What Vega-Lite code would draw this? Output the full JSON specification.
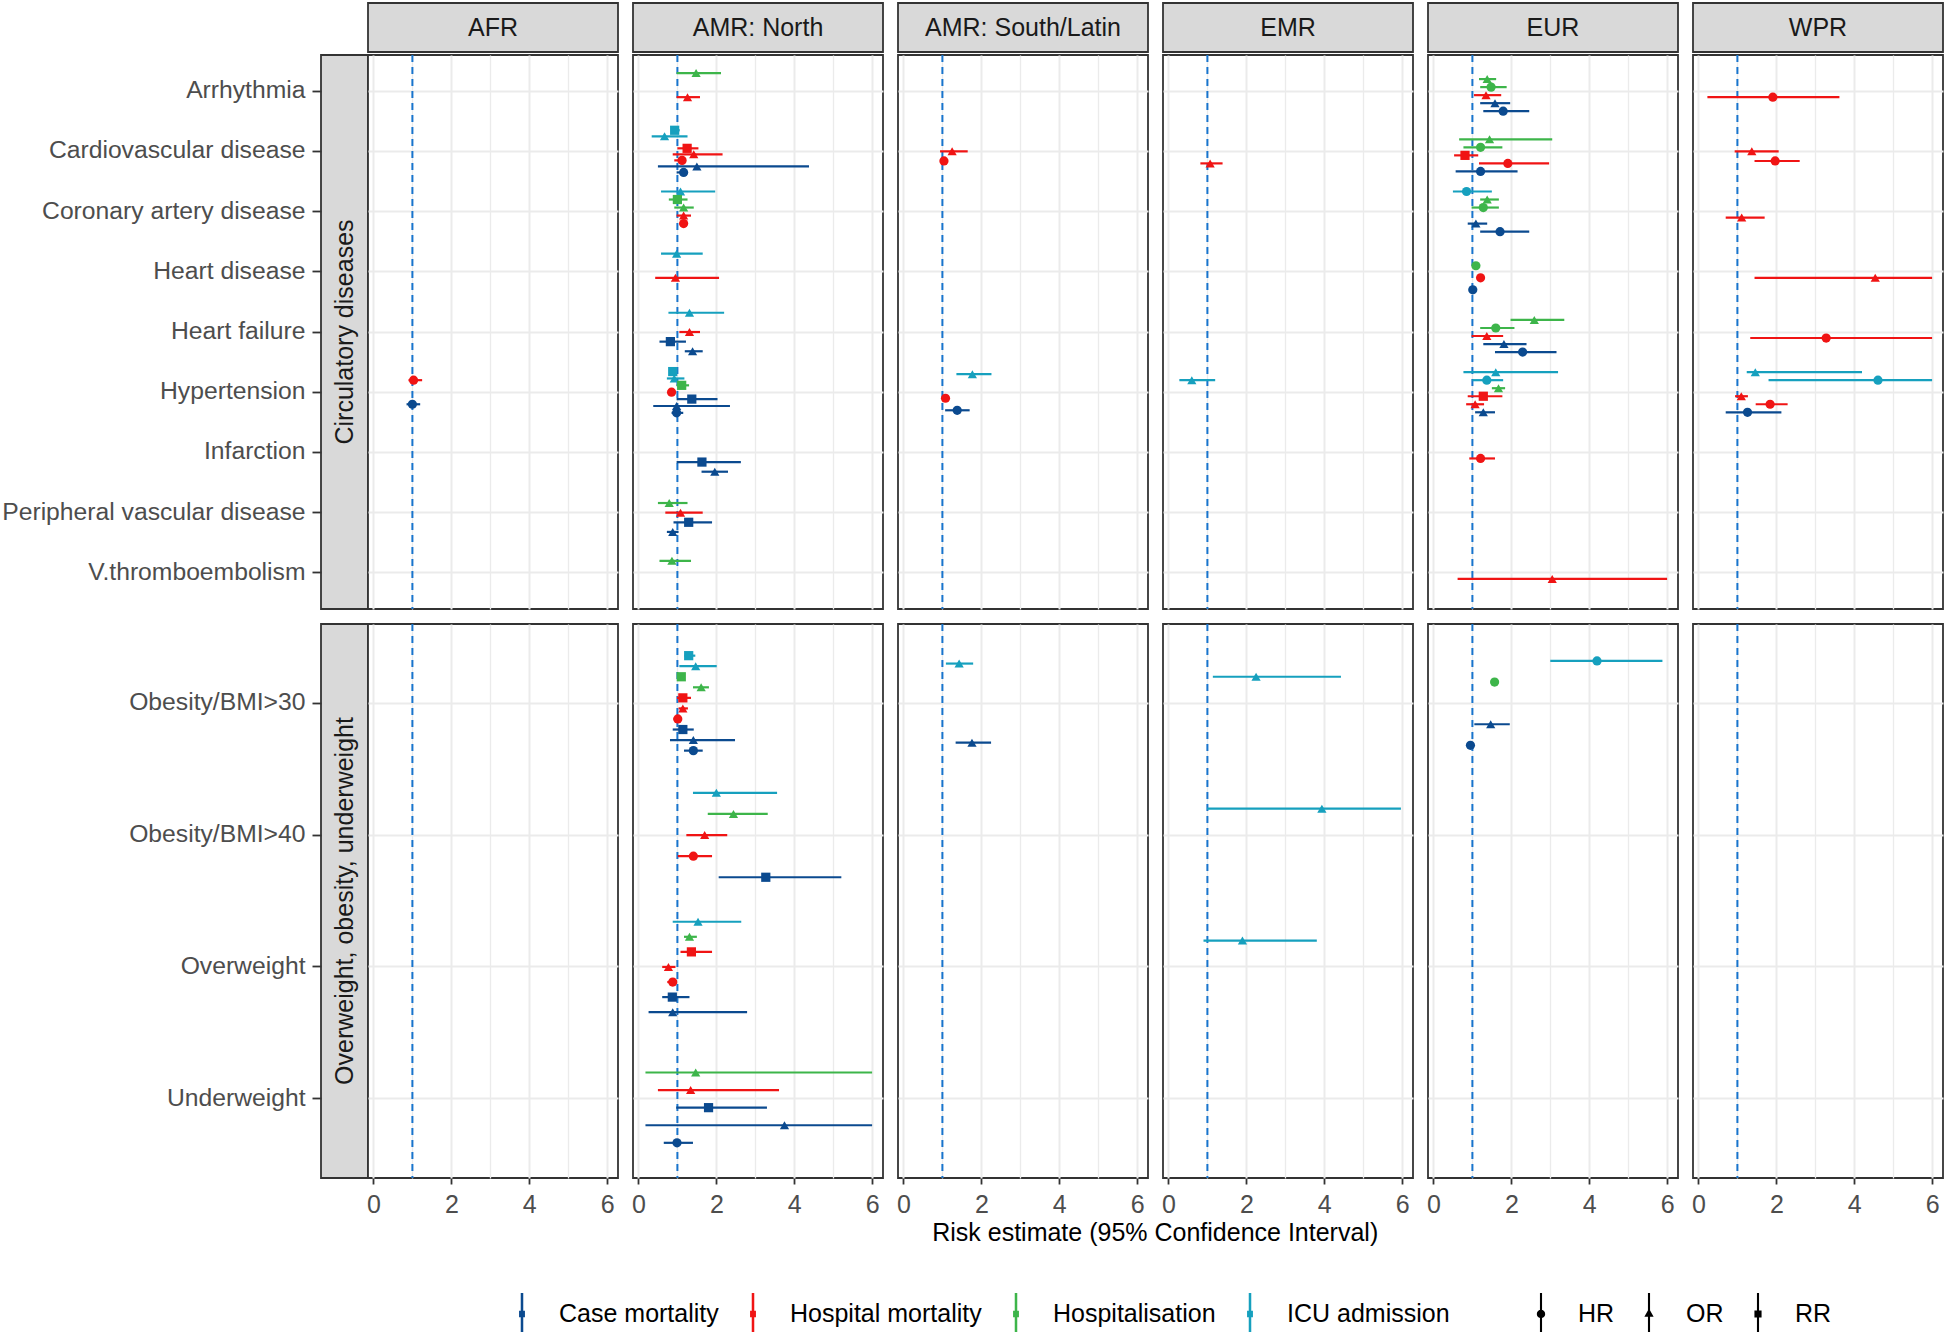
{
  "$schema": "https://vega.github.io/schema/vega-lite/v6.json",
  "padding": {"left": 0, "top": 2, "right": 0, "bottom": 0},
  "background": "white",
  "config": {
    "font": "Liberation Sans",
    "view": {"stroke": null},
    "axis": {"labelFont": "Liberation Sans", "titleFont": "Liberation Sans"},
    "legend": {"labelFont": "Liberation Sans"},
    "title": {"font": "Liberation Sans"}
  },
  "datasets": {
    "reg": [{"r": "AFR"}, {"r": "AMR: North"}, {"r": "AMR: South/Latin"}, {"r": "EMR"}, {"r": "EUR"}, {"r": "WPR"}],
    "d": [
      {"r": "AFR", "g": "C", "c": "Hypertension", "o": "Hospital mortality", "m": "HR", "e": 1.03, "l": 0.9, "h": 1.25},
      {"r": "AFR", "g": "C", "c": "Hypertension", "o": "Case mortality", "m": "HR", "e": 1.0, "l": 0.85, "h": 1.2},
      {"r": "AFR", "g": "O", "c": "Obesity/BMI>30", "o": "Case mortality", "m": "HR", "e": null, "l": null, "h": null},

      {"r": "AMR: North", "g": "C", "c": "Arrhythmia", "o": "Hospitalisation", "m": "OR", "e": 1.48, "l": 0.98, "h": 2.12},
      {"r": "AMR: North", "g": "C", "c": "Arrhythmia", "o": "Hospitalisation", "m": "HR", "e": null, "l": null, "h": null},
      {"r": "AMR: North", "g": "C", "c": "Arrhythmia", "o": "Hospital mortality", "m": "OR", "e": 1.26, "l": 0.98, "h": 1.58},
      {"r": "AMR: North", "g": "C", "c": "Arrhythmia", "o": "Case mortality", "m": "HR", "e": null, "l": null, "h": null},
      {"r": "AMR: North", "g": "C", "c": "Cardiovascular disease", "o": "ICU admission", "m": "RR", "e": 0.93, "l": 0.86, "h": 1.06},
      {"r": "AMR: North", "g": "C", "c": "Cardiovascular disease", "o": "ICU admission", "m": "OR", "e": 0.67, "l": 0.34, "h": 1.26},
      {"r": "AMR: North", "g": "C", "c": "Cardiovascular disease", "o": "Hospitalisation", "m": "OR", "e": null, "l": null, "h": null},
      {"r": "AMR: North", "g": "C", "c": "Cardiovascular disease", "o": "Hospital mortality", "m": "RR", "e": 1.25, "l": 1.0, "h": 1.54},
      {"r": "AMR: North", "g": "C", "c": "Cardiovascular disease", "o": "Hospital mortality", "m": "OR", "e": 1.42, "l": 0.88, "h": 2.16},
      {"r": "AMR: North", "g": "C", "c": "Cardiovascular disease", "o": "Hospital mortality", "m": "HR", "e": 1.12, "l": 0.92, "h": 1.22},
      {"r": "AMR: North", "g": "C", "c": "Cardiovascular disease", "o": "Case mortality", "m": "OR", "e": 1.5, "l": 0.5, "h": 4.38},
      {"r": "AMR: North", "g": "C", "c": "Cardiovascular disease", "o": "Case mortality", "m": "HR", "e": 1.16, "l": 0.98, "h": 1.25},
      {"r": "AMR: North", "g": "C", "c": "Coronary artery disease", "o": "ICU admission", "m": "OR", "e": 1.08, "l": 0.58, "h": 1.97},
      {"r": "AMR: North", "g": "C", "c": "Coronary artery disease", "o": "Hospitalisation", "m": "RR", "e": 1.0, "l": 0.78, "h": 1.26},
      {"r": "AMR: North", "g": "C", "c": "Coronary artery disease", "o": "Hospitalisation", "m": "OR", "e": 1.16, "l": 0.92, "h": 1.42},
      {"r": "AMR: North", "g": "C", "c": "Coronary artery disease", "o": "Hospital mortality", "m": "OR", "e": 1.16, "l": 0.98, "h": 1.35},
      {"r": "AMR: North", "g": "C", "c": "Coronary artery disease", "o": "Hospital mortality", "m": "HR", "e": 1.16, "l": 1.05, "h": 1.25},
      {"r": "AMR: North", "g": "C", "c": "Coronary artery disease", "o": "Case mortality", "m": "HR", "e": null, "l": null, "h": null},
      {"r": "AMR: North", "g": "C", "c": "Heart disease", "o": "ICU admission", "m": "OR", "e": 0.98, "l": 0.58, "h": 1.65},
      {"r": "AMR: North", "g": "C", "c": "Heart disease", "o": "Hospitalisation", "m": "OR", "e": null, "l": null, "h": null},
      {"r": "AMR: North", "g": "C", "c": "Heart disease", "o": "Hospital mortality", "m": "OR", "e": 0.95, "l": 0.43, "h": 2.07},
      {"r": "AMR: North", "g": "C", "c": "Heart disease", "o": "Case mortality", "m": "OR", "e": null, "l": null, "h": null},
      {"r": "AMR: North", "g": "C", "c": "Heart failure", "o": "ICU admission", "m": "OR", "e": 1.31, "l": 0.77, "h": 2.2},
      {"r": "AMR: North", "g": "C", "c": "Heart failure", "o": "Hospitalisation", "m": "OR", "e": null, "l": null, "h": null},
      {"r": "AMR: North", "g": "C", "c": "Heart failure", "o": "Hospital mortality", "m": "OR", "e": 1.31, "l": 1.05, "h": 1.58},
      {"r": "AMR: North", "g": "C", "c": "Heart failure", "o": "Case mortality", "m": "RR", "e": 0.82, "l": 0.54, "h": 1.22},
      {"r": "AMR: North", "g": "C", "c": "Heart failure", "o": "Case mortality", "m": "OR", "e": 1.39, "l": 1.19, "h": 1.65},
      {"r": "AMR: North", "g": "C", "c": "Hypertension", "o": "ICU admission", "m": "RR", "e": 0.88, "l": 0.8, "h": 0.98},
      {"r": "AMR: North", "g": "C", "c": "Hypertension", "o": "ICU admission", "m": "OR", "e": 0.92, "l": 0.73, "h": 1.18},
      {"r": "AMR: North", "g": "C", "c": "Hypertension", "o": "Hospitalisation", "m": "RR", "e": 1.11, "l": 0.98, "h": 1.3},
      {"r": "AMR: North", "g": "C", "c": "Hypertension", "o": "Hospital mortality", "m": "HR", "e": 0.85, "l": 0.8, "h": 0.9},
      {"r": "AMR: North", "g": "C", "c": "Hypertension", "o": "Case mortality", "m": "RR", "e": 1.37, "l": 0.98, "h": 2.03},
      {"r": "AMR: North", "g": "C", "c": "Hypertension", "o": "Case mortality", "m": "OR", "e": 0.98, "l": 0.38, "h": 2.35},
      {"r": "AMR: North", "g": "C", "c": "Hypertension", "o": "Case mortality", "m": "HR", "e": 0.98, "l": 0.85, "h": 1.15},
      {"r": "AMR: North", "g": "C", "c": "Infarction", "o": "ICU admission", "m": "OR", "e": null, "l": null, "h": null},
      {"r": "AMR: North", "g": "C", "c": "Infarction", "o": "Hospitalisation", "m": "OR", "e": null, "l": null, "h": null},
      {"r": "AMR: North", "g": "C", "c": "Infarction", "o": "Hospital mortality", "m": "OR", "e": null, "l": null, "h": null},
      {"r": "AMR: North", "g": "C", "c": "Infarction", "o": "Case mortality", "m": "RR", "e": 1.63, "l": 0.98, "h": 2.63},
      {"r": "AMR: North", "g": "C", "c": "Infarction", "o": "Case mortality", "m": "OR", "e": 1.96, "l": 1.62, "h": 2.3},
      {"r": "AMR: North", "g": "C", "c": "Peripheral vascular disease", "o": "ICU admission", "m": "OR", "e": null, "l": null, "h": null},
      {"r": "AMR: North", "g": "C", "c": "Peripheral vascular disease", "o": "Hospitalisation", "m": "OR", "e": 0.79, "l": 0.5, "h": 1.26},
      {"r": "AMR: North", "g": "C", "c": "Peripheral vascular disease", "o": "Hospital mortality", "m": "OR", "e": 1.08, "l": 0.69, "h": 1.65},
      {"r": "AMR: North", "g": "C", "c": "Peripheral vascular disease", "o": "Case mortality", "m": "RR", "e": 1.29, "l": 0.9, "h": 1.89},
      {"r": "AMR: North", "g": "C", "c": "Peripheral vascular disease", "o": "Case mortality", "m": "OR", "e": 0.88, "l": 0.73, "h": 1.03},
      {"r": "AMR: North", "g": "C", "c": "V.thromboembolism", "o": "Hospitalisation", "m": "OR", "e": 0.86, "l": 0.54, "h": 1.35},
      {"r": "AMR: North", "g": "C", "c": "V.thromboembolism", "o": "Hospital mortality", "m": "OR", "e": null, "l": null, "h": null},

      {"r": "AMR: South/Latin", "g": "C", "c": "Cardiovascular disease", "o": "ICU admission", "m": "OR", "e": null, "l": null, "h": null},
      {"r": "AMR: South/Latin", "g": "C", "c": "Cardiovascular disease", "o": "Hospitalisation", "m": "OR", "e": null, "l": null, "h": null},
      {"r": "AMR: South/Latin", "g": "C", "c": "Cardiovascular disease", "o": "Hospital mortality", "m": "OR", "e": 1.25, "l": 0.94, "h": 1.65},
      {"r": "AMR: South/Latin", "g": "C", "c": "Cardiovascular disease", "o": "Hospital mortality", "m": "HR", "e": 1.04, "l": 1.0, "h": 1.08},
      {"r": "AMR: South/Latin", "g": "C", "c": "Cardiovascular disease", "o": "Case mortality", "m": "OR", "e": null, "l": null, "h": null},
      {"r": "AMR: South/Latin", "g": "C", "c": "Hypertension", "o": "ICU admission", "m": "OR", "e": 1.77, "l": 1.36, "h": 2.26},
      {"r": "AMR: South/Latin", "g": "C", "c": "Hypertension", "o": "Hospitalisation", "m": "OR", "e": null, "l": null, "h": null},
      {"r": "AMR: South/Latin", "g": "C", "c": "Hypertension", "o": "Hospital mortality", "m": "HR", "e": 1.08, "l": 1.03, "h": 1.13},
      {"r": "AMR: South/Latin", "g": "C", "c": "Hypertension", "o": "Case mortality", "m": "HR", "e": 1.38, "l": 1.07, "h": 1.7},

      {"r": "EMR", "g": "C", "c": "Cardiovascular disease", "o": "ICU admission", "m": "OR", "e": null, "l": null, "h": null},
      {"r": "EMR", "g": "C", "c": "Cardiovascular disease", "o": "Hospital mortality", "m": "OR", "e": 1.07, "l": 0.82, "h": 1.39},
      {"r": "EMR", "g": "C", "c": "Hypertension", "o": "ICU admission", "m": "OR", "e": 0.6, "l": 0.28, "h": 1.2},
      {"r": "EMR", "g": "C", "c": "Hypertension", "o": "Hospital mortality", "m": "OR", "e": null, "l": null, "h": null},

      {"r": "EUR", "g": "C", "c": "Arrhythmia", "o": "ICU admission", "m": "OR", "e": null, "l": null, "h": null},
      {"r": "EUR", "g": "C", "c": "Arrhythmia", "o": "Hospitalisation", "m": "OR", "e": 1.38, "l": 1.17, "h": 1.61},
      {"r": "EUR", "g": "C", "c": "Arrhythmia", "o": "Hospitalisation", "m": "HR", "e": 1.48, "l": 1.2, "h": 1.88},
      {"r": "EUR", "g": "C", "c": "Arrhythmia", "o": "Hospital mortality", "m": "OR", "e": 1.35, "l": 1.04, "h": 1.74},
      {"r": "EUR", "g": "C", "c": "Arrhythmia", "o": "Case mortality", "m": "OR", "e": 1.58, "l": 1.2, "h": 1.97},
      {"r": "EUR", "g": "C", "c": "Arrhythmia", "o": "Case mortality", "m": "HR", "e": 1.79, "l": 1.28, "h": 2.46},
      {"r": "EUR", "g": "C", "c": "Cardiovascular disease", "o": "ICU admission", "m": "OR", "e": null, "l": null, "h": null},
      {"r": "EUR", "g": "C", "c": "Cardiovascular disease", "o": "Hospitalisation", "m": "OR", "e": 1.44, "l": 0.66, "h": 3.05},
      {"r": "EUR", "g": "C", "c": "Cardiovascular disease", "o": "Hospitalisation", "m": "HR", "e": 1.21, "l": 0.77, "h": 1.77},
      {"r": "EUR", "g": "C", "c": "Cardiovascular disease", "o": "Hospital mortality", "m": "RR", "e": 0.81, "l": 0.53, "h": 1.15},
      {"r": "EUR", "g": "C", "c": "Cardiovascular disease", "o": "Hospital mortality", "m": "HR", "e": 1.91, "l": 1.17, "h": 2.97},
      {"r": "EUR", "g": "C", "c": "Cardiovascular disease", "o": "Case mortality", "m": "HR", "e": 1.21, "l": 0.57, "h": 2.16},
      {"r": "EUR", "g": "C", "c": "Coronary artery disease", "o": "ICU admission", "m": "HR", "e": 0.85, "l": 0.5, "h": 1.5},
      {"r": "EUR", "g": "C", "c": "Coronary artery disease", "o": "Hospitalisation", "m": "OR", "e": 1.38, "l": 1.2, "h": 1.68},
      {"r": "EUR", "g": "C", "c": "Coronary artery disease", "o": "Hospitalisation", "m": "HR", "e": 1.28, "l": 0.98, "h": 1.68},
      {"r": "EUR", "g": "C", "c": "Coronary artery disease", "o": "Hospital mortality", "m": "OR", "e": null, "l": null, "h": null},
      {"r": "EUR", "g": "C", "c": "Coronary artery disease", "o": "Case mortality", "m": "OR", "e": 1.09, "l": 0.88, "h": 1.38},
      {"r": "EUR", "g": "C", "c": "Coronary artery disease", "o": "Case mortality", "m": "HR", "e": 1.71, "l": 1.2, "h": 2.46},
      {"r": "EUR", "g": "C", "c": "Heart disease", "o": "ICU admission", "m": "OR", "e": null, "l": null, "h": null},
      {"r": "EUR", "g": "C", "c": "Heart disease", "o": "Hospitalisation", "m": "HR", "e": 1.09, "l": 1.05, "h": 1.13},
      {"r": "EUR", "g": "C", "c": "Heart disease", "o": "Hospital mortality", "m": "HR", "e": 1.21, "l": 1.17, "h": 1.25},
      {"r": "EUR", "g": "C", "c": "Heart disease", "o": "Case mortality", "m": "HR", "e": 1.01, "l": 0.97, "h": 1.05},
      {"r": "EUR", "g": "C", "c": "Heart failure", "o": "ICU admission", "m": "OR", "e": null, "l": null, "h": null},
      {"r": "EUR", "g": "C", "c": "Heart failure", "o": "Hospitalisation", "m": "OR", "e": 2.59, "l": 1.98, "h": 3.36},
      {"r": "EUR", "g": "C", "c": "Heart failure", "o": "Hospitalisation", "m": "HR", "e": 1.6, "l": 1.2, "h": 2.08},
      {"r": "EUR", "g": "C", "c": "Heart failure", "o": "Hospital mortality", "m": "OR", "e": 1.37, "l": 0.98, "h": 1.79},
      {"r": "EUR", "g": "C", "c": "Heart failure", "o": "Case mortality", "m": "OR", "e": 1.81, "l": 1.28, "h": 2.39},
      {"r": "EUR", "g": "C", "c": "Heart failure", "o": "Case mortality", "m": "HR", "e": 2.29, "l": 1.58, "h": 3.16},
      {"r": "EUR", "g": "C", "c": "Hypertension", "o": "ICU admission", "m": "OR", "e": 1.6, "l": 0.77, "h": 3.2},
      {"r": "EUR", "g": "C", "c": "Hypertension", "o": "ICU admission", "m": "HR", "e": 1.37, "l": 1.0, "h": 1.79},
      {"r": "EUR", "g": "C", "c": "Hypertension", "o": "Hospitalisation", "m": "OR", "e": 1.67, "l": 1.5, "h": 1.84},
      {"r": "EUR", "g": "C", "c": "Hypertension", "o": "Hospital mortality", "m": "RR", "e": 1.28, "l": 0.88, "h": 1.77},
      {"r": "EUR", "g": "C", "c": "Hypertension", "o": "Hospital mortality", "m": "OR", "e": 1.07, "l": 0.84, "h": 1.3},
      {"r": "EUR", "g": "C", "c": "Hypertension", "o": "Case mortality", "m": "OR", "e": 1.28, "l": 1.07, "h": 1.58},
      {"r": "EUR", "g": "C", "c": "Infarction", "o": "ICU admission", "m": "OR", "e": null, "l": null, "h": null},
      {"r": "EUR", "g": "C", "c": "Infarction", "o": "Hospitalisation", "m": "OR", "e": null, "l": null, "h": null},
      {"r": "EUR", "g": "C", "c": "Infarction", "o": "Hospital mortality", "m": "HR", "e": 1.21, "l": 0.92, "h": 1.58},
      {"r": "EUR", "g": "C", "c": "Infarction", "o": "Case mortality", "m": "OR", "e": null, "l": null, "h": null},
      {"r": "EUR", "g": "C", "c": "V.thromboembolism", "o": "ICU admission", "m": "OR", "e": null, "l": null, "h": null},
      {"r": "EUR", "g": "C", "c": "V.thromboembolism", "o": "Hospitalisation", "m": "OR", "e": null, "l": null, "h": null},
      {"r": "EUR", "g": "C", "c": "V.thromboembolism", "o": "Hospital mortality", "m": "OR", "e": 3.05, "l": 0.62, "h": 6.0},
      {"r": "EUR", "g": "C", "c": "V.thromboembolism", "o": "Case mortality", "m": "OR", "e": null, "l": null, "h": null},

      {"r": "WPR", "g": "C", "c": "Arrhythmia", "o": "ICU admission", "m": "OR", "e": null, "l": null, "h": null},
      {"r": "WPR", "g": "C", "c": "Arrhythmia", "o": "Hospitalisation", "m": "OR", "e": null, "l": null, "h": null},
      {"r": "WPR", "g": "C", "c": "Arrhythmia", "o": "Hospital mortality", "m": "HR", "e": 1.91, "l": 0.23, "h": 3.62},
      {"r": "WPR", "g": "C", "c": "Arrhythmia", "o": "Case mortality", "m": "OR", "e": null, "l": null, "h": null},
      {"r": "WPR", "g": "C", "c": "Cardiovascular disease", "o": "ICU admission", "m": "OR", "e": null, "l": null, "h": null},
      {"r": "WPR", "g": "C", "c": "Cardiovascular disease", "o": "Hospitalisation", "m": "OR", "e": null, "l": null, "h": null},
      {"r": "WPR", "g": "C", "c": "Cardiovascular disease", "o": "Hospital mortality", "m": "OR", "e": 1.37, "l": 0.93, "h": 2.06},
      {"r": "WPR", "g": "C", "c": "Cardiovascular disease", "o": "Hospital mortality", "m": "HR", "e": 1.97, "l": 1.44, "h": 2.6},
      {"r": "WPR", "g": "C", "c": "Cardiovascular disease", "o": "Case mortality", "m": "OR", "e": null, "l": null, "h": null},
      {"r": "WPR", "g": "C", "c": "Coronary artery disease", "o": "ICU admission", "m": "OR", "e": null, "l": null, "h": null},
      {"r": "WPR", "g": "C", "c": "Coronary artery disease", "o": "Hospitalisation", "m": "OR", "e": null, "l": null, "h": null},
      {"r": "WPR", "g": "C", "c": "Coronary artery disease", "o": "Hospital mortality", "m": "OR", "e": 1.11, "l": 0.7, "h": 1.7},
      {"r": "WPR", "g": "C", "c": "Coronary artery disease", "o": "Case mortality", "m": "OR", "e": null, "l": null, "h": null},
      {"r": "WPR", "g": "C", "c": "Heart disease", "o": "ICU admission", "m": "OR", "e": null, "l": null, "h": null},
      {"r": "WPR", "g": "C", "c": "Heart disease", "o": "Hospitalisation", "m": "OR", "e": null, "l": null, "h": null},
      {"r": "WPR", "g": "C", "c": "Heart disease", "o": "Hospital mortality", "m": "OR", "e": 4.54, "l": 1.44, "h": 6.0},
      {"r": "WPR", "g": "C", "c": "Heart disease", "o": "Case mortality", "m": "OR", "e": null, "l": null, "h": null},
      {"r": "WPR", "g": "C", "c": "Heart failure", "o": "ICU admission", "m": "OR", "e": null, "l": null, "h": null},
      {"r": "WPR", "g": "C", "c": "Heart failure", "o": "Hospitalisation", "m": "OR", "e": null, "l": null, "h": null},
      {"r": "WPR", "g": "C", "c": "Heart failure", "o": "Hospital mortality", "m": "HR", "e": 3.28, "l": 1.33, "h": 6.0},
      {"r": "WPR", "g": "C", "c": "Heart failure", "o": "Case mortality", "m": "OR", "e": null, "l": null, "h": null},
      {"r": "WPR", "g": "C", "c": "Hypertension", "o": "ICU admission", "m": "OR", "e": 1.46, "l": 1.24, "h": 4.2},
      {"r": "WPR", "g": "C", "c": "Hypertension", "o": "ICU admission", "m": "HR", "e": 4.61, "l": 1.8, "h": 6.0},
      {"r": "WPR", "g": "C", "c": "Hypertension", "o": "Hospitalisation", "m": "OR", "e": null, "l": null, "h": null},
      {"r": "WPR", "g": "C", "c": "Hypertension", "o": "Hospital mortality", "m": "OR", "e": 1.1, "l": 0.94, "h": 1.27},
      {"r": "WPR", "g": "C", "c": "Hypertension", "o": "Hospital mortality", "m": "HR", "e": 1.84, "l": 1.47, "h": 2.29},
      {"r": "WPR", "g": "C", "c": "Hypertension", "o": "Case mortality", "m": "HR", "e": 1.26, "l": 0.7, "h": 2.13},
      {"r": "WPR", "g": "O", "c": "Obesity/BMI>30", "o": "Case mortality", "m": "HR", "e": null, "l": null, "h": null},

      {"r": "AMR: North", "g": "O", "c": "Obesity/BMI>30", "o": "ICU admission", "m": "RR", "e": 1.29, "l": 1.18, "h": 1.46},
      {"r": "AMR: North", "g": "O", "c": "Obesity/BMI>30", "o": "ICU admission", "m": "OR", "e": 1.47, "l": 1.05, "h": 2.01},
      {"r": "AMR: North", "g": "O", "c": "Obesity/BMI>30", "o": "Hospitalisation", "m": "RR", "e": 1.1, "l": 1.05, "h": 1.15},
      {"r": "AMR: North", "g": "O", "c": "Obesity/BMI>30", "o": "Hospitalisation", "m": "OR", "e": 1.61, "l": 1.4, "h": 1.81},
      {"r": "AMR: North", "g": "O", "c": "Obesity/BMI>30", "o": "Hospital mortality", "m": "RR", "e": 1.14, "l": 0.99, "h": 1.35},
      {"r": "AMR: North", "g": "O", "c": "Obesity/BMI>30", "o": "Hospital mortality", "m": "OR", "e": 1.14, "l": 1.03, "h": 1.27},
      {"r": "AMR: North", "g": "O", "c": "Obesity/BMI>30", "o": "Hospital mortality", "m": "HR", "e": 1.01, "l": 0.9, "h": 1.1},
      {"r": "AMR: North", "g": "O", "c": "Obesity/BMI>30", "o": "Case mortality", "m": "RR", "e": 1.14, "l": 0.88, "h": 1.42},
      {"r": "AMR: North", "g": "O", "c": "Obesity/BMI>30", "o": "Case mortality", "m": "OR", "e": 1.41, "l": 0.81, "h": 2.48},
      {"r": "AMR: North", "g": "O", "c": "Obesity/BMI>30", "o": "Case mortality", "m": "HR", "e": 1.41, "l": 1.17, "h": 1.65},
      {"r": "AMR: North", "g": "O", "c": "Obesity/BMI>40", "o": "ICU admission", "m": "OR", "e": 2.0, "l": 1.4, "h": 3.56},
      {"r": "AMR: North", "g": "O", "c": "Obesity/BMI>40", "o": "Hospitalisation", "m": "OR", "e": 2.44, "l": 1.78, "h": 3.32},
      {"r": "AMR: North", "g": "O", "c": "Obesity/BMI>40", "o": "Hospital mortality", "m": "OR", "e": 1.7, "l": 1.23, "h": 2.28},
      {"r": "AMR: North", "g": "O", "c": "Obesity/BMI>40", "o": "Hospital mortality", "m": "HR", "e": 1.41, "l": 1.01, "h": 1.89},
      {"r": "AMR: North", "g": "O", "c": "Obesity/BMI>40", "o": "Case mortality", "m": "RR", "e": 3.27, "l": 2.06, "h": 5.21},
      {"r": "AMR: North", "g": "O", "c": "Overweight", "o": "ICU admission", "m": "OR", "e": 1.53, "l": 0.88, "h": 2.64},
      {"r": "AMR: North", "g": "O", "c": "Overweight", "o": "Hospitalisation", "m": "OR", "e": 1.31, "l": 1.17, "h": 1.5},
      {"r": "AMR: North", "g": "O", "c": "Overweight", "o": "Hospital mortality", "m": "RR", "e": 1.36, "l": 1.08, "h": 1.89},
      {"r": "AMR: North", "g": "O", "c": "Overweight", "o": "Hospital mortality", "m": "OR", "e": 0.77, "l": 0.61, "h": 0.95},
      {"r": "AMR: North", "g": "O", "c": "Overweight", "o": "Hospital mortality", "m": "HR", "e": 0.88, "l": 0.74, "h": 0.97},
      {"r": "AMR: North", "g": "O", "c": "Overweight", "o": "Case mortality", "m": "RR", "e": 0.87, "l": 0.61, "h": 1.31},
      {"r": "AMR: North", "g": "O", "c": "Overweight", "o": "Case mortality", "m": "OR", "e": 0.88, "l": 0.26, "h": 2.79},
      {"r": "AMR: North", "g": "O", "c": "Underweight", "o": "ICU admission", "m": "OR", "e": null, "l": null, "h": null},
      {"r": "AMR: North", "g": "O", "c": "Underweight", "o": "Hospitalisation", "m": "OR", "e": 1.47, "l": 0.18, "h": 6.0},
      {"r": "AMR: North", "g": "O", "c": "Underweight", "o": "Hospital mortality", "m": "OR", "e": 1.34, "l": 0.5, "h": 3.61},
      {"r": "AMR: North", "g": "O", "c": "Underweight", "o": "Case mortality", "m": "RR", "e": 1.8, "l": 0.97, "h": 3.3},
      {"r": "AMR: North", "g": "O", "c": "Underweight", "o": "Case mortality", "m": "OR", "e": 3.75, "l": 0.18, "h": 6.0},
      {"r": "AMR: North", "g": "O", "c": "Underweight", "o": "Case mortality", "m": "HR", "e": 0.99, "l": 0.65, "h": 1.4},

      {"r": "AMR: South/Latin", "g": "O", "c": "Obesity/BMI>30", "o": "ICU admission", "m": "OR", "e": 1.43, "l": 1.09, "h": 1.79},
      {"r": "AMR: South/Latin", "g": "O", "c": "Obesity/BMI>30", "o": "Hospitalisation", "m": "OR", "e": null, "l": null, "h": null},
      {"r": "AMR: South/Latin", "g": "O", "c": "Obesity/BMI>30", "o": "Hospital mortality", "m": "OR", "e": null, "l": null, "h": null},
      {"r": "AMR: South/Latin", "g": "O", "c": "Obesity/BMI>30", "o": "Case mortality", "m": "OR", "e": 1.76, "l": 1.34, "h": 2.25},

      {"r": "EMR", "g": "O", "c": "Obesity/BMI>30", "o": "ICU admission", "m": "OR", "e": 2.25, "l": 1.14, "h": 4.43},
      {"r": "EMR", "g": "O", "c": "Obesity/BMI>30", "o": "Hospital mortality", "m": "OR", "e": null, "l": null, "h": null},
      {"r": "EMR", "g": "O", "c": "Obesity/BMI>40", "o": "ICU admission", "m": "OR", "e": 3.94, "l": 0.99, "h": 5.97},
      {"r": "EMR", "g": "O", "c": "Obesity/BMI>40", "o": "Hospital mortality", "m": "OR", "e": null, "l": null, "h": null},
      {"r": "EMR", "g": "O", "c": "Overweight", "o": "ICU admission", "m": "OR", "e": 1.9, "l": 0.9, "h": 3.81},
      {"r": "EMR", "g": "O", "c": "Overweight", "o": "Hospital mortality", "m": "OR", "e": null, "l": null, "h": null},

      {"r": "EUR", "g": "O", "c": "Obesity/BMI>30", "o": "ICU admission", "m": "HR", "e": 4.2, "l": 3.0, "h": 5.88},
      {"r": "EUR", "g": "O", "c": "Obesity/BMI>30", "o": "Hospitalisation", "m": "HR", "e": 1.57, "l": 1.53, "h": 1.61},
      {"r": "EUR", "g": "O", "c": "Obesity/BMI>30", "o": "Hospital mortality", "m": "OR", "e": null, "l": null, "h": null},
      {"r": "EUR", "g": "O", "c": "Obesity/BMI>30", "o": "Case mortality", "m": "OR", "e": 1.47, "l": 1.05, "h": 1.96},
      {"r": "EUR", "g": "O", "c": "Obesity/BMI>30", "o": "Case mortality", "m": "HR", "e": 0.95, "l": 0.92, "h": 0.99}
    ]
  },
  "spacing": 11,
  "resolve": {"scale": {"yOffset": "independent"}},
  "vconcat": [
    {
      "spacing": 0,
      "resolve": {"scale": {"yOffset": "independent"}},
      "vconcat": [
        {
          "spacing": 0,
          "bounds": "flush",
          "hconcat": [
            {
              "width": 47, "height": 49,
              "data": {"values": [{"a": 1}]},
              "mark": {"type": "text", "opacity": 0},
              "encoding": {"text": {"value": ""}}
            },
            {
              "data": {"name": "reg"},
              "facet": {"column": {"field": "r", "type": "nominal", "header": null}},
              "spacing": 15,
              "bounds": "flush",
              "spec": {
                "width": 250, "height": 49,
                "view": {"fill": "#D9D9D9", "stroke": "#333333", "strokeWidth": 1.8},
                "mark": {"type": "text", "fontSize": 25, "color": "#1A1A1A", "font": "Liberation Sans"},
                "encoding": {"text": {"field": "r", "type": "nominal"}}
              }
            }
          ]
        },
        {
          "spacing": 0,
          "bounds": "flush",
          "hconcat": [
            {
              "width": 47, "height": 554,
              "view": {"fill": "#D9D9D9", "stroke": "#333333", "strokeWidth": 1.8},
              "layer": [
                {
                  "data": {"name": "d"},
                  "transform": [{"filter": "datum.g === 'C'"}],
                  "mark": {"type": "point", "opacity": 0},
                  "encoding": {
                    "y": {"field": "c", "type": "nominal", "scale": {"type": "band", "paddingInner": 0, "paddingOuter": 0.1},
                      "axis": {"title": null, "domain": false, "grid": false, "ticks": true, "tickSize": 9, "tickWidth": 1.8, "tickColor": "#333333", "labelFontSize": 24.7, "labelColor": "#4D4D4D", "labelPadding": 7, "labelLimit": 0, "minExtent": 320, "maxExtent": 320, "bandPosition": 0.5}}
                  }
                },
                {
                  "data": {"values": [{"t": "Circulatory diseases"}]},
                  "mark": {"type": "text", "angle": 270, "fontSize": 25, "color": "#1A1A1A", "font": "Liberation Sans"},
                  "encoding": {"text": {"field": "t", "type": "nominal"}}
                }
              ]
            },
            {
              "data": {"name": "d"},
              "transform": [
                {"filter": "datum.g === 'C'"},
                {"window": [{"op": "row_number", "as": "k"}], "groupby": ["r", "c"], "sort": [{"field": "o", "order": "descending"}, {"field": "m", "order": "descending"}]},
                {"joinaggregate": [{"op": "count", "as": "n"}], "groupby": ["r", "c"]},
                {"window": [{"op": "row_number", "as": "kr"}], "groupby": ["r"]},
                {"calculate": "0.8 * ((datum.k - 0.5) / datum.n - 0.5)", "as": "dy"}
              ],
              "facet": {"column": {"field": "r", "type": "nominal", "header": null}},
              "spacing": 15,
              "bounds": "flush",
              "spec": {
                "width": 250, "height": 554,
                "view": {"fill": "white", "stroke": "#333333", "strokeWidth": 1.8},
                "layer": [
                  {
                    "transform": [{"filter": "datum.kr === 1"}],
                    "mark": {"type": "rule", "color": "#1874CD", "strokeDash": [7, 5], "strokeWidth": 2},
                    "encoding": {
                      "x": {"datum": 1, "type": "quantitative", "scale": {"domain": [-0.14, 6.28], "nice": false, "zero": false},
                        "axis": {"values": [0, 1, 2, 3, 4, 5, 6], "labels": false, "ticks": false, "domain": false, "grid": true, "gridColor": "#EBEBEB", "gridWidth": {"condition": {"test": "datum.value % 2 === 1", "value": 1.3}, "value": 2}, "title": null, "minExtent": 0, "maxExtent": 0}}
                    }
                  },
                  {
                    "mark": {"type": "rule", "strokeWidth": 2.2},
                    "encoding": {
                      "x": {"field": "l", "type": "quantitative", "scale": {"domain": [-0.14, 6.28], "nice": false, "zero": false},
                        "axis": {"values": [0, 1, 2, 3, 4, 5, 6], "labels": false, "ticks": false, "domain": false, "grid": true, "gridColor": "#EBEBEB", "gridWidth": {"condition": {"test": "datum.value % 2 === 1", "value": 1.3}, "value": 2}, "title": null, "minExtent": 0, "maxExtent": 0}},
                      "x2": {"field": "h"},
                      "y": {"field": "c", "type": "nominal", "scale": {"type": "band", "paddingInner": 0, "paddingOuter": 0.1},
                        "axis": {"labels": false, "ticks": false, "domain": false, "grid": true, "gridColor": "#EBEBEB", "gridWidth": 2, "bandPosition": 0.5, "title": null, "minExtent": 0, "maxExtent": 0}},
                      "yOffset": {"field": "dy", "type": "quantitative", "scale": {"domain": [-0.5, 0.5], "nice": false, "zero": false}},
                      "color": {"field": "o", "type": "nominal", "scale": {"domain": ["Case mortality", "Hospital mortality", "Hospitalisation", "ICU admission"], "range": ["#0B4A8F", "#F01414", "#3DB54A", "#16A0BE"]},
                        "legend": {"orient": "none", "legendX": 180, "legendY": 1290, "direction": "horizontal", "title": null, "symbolType": "M-0.06,-1H0.06V1H-0.06Z M-0.14,-0.16H0.14V0.16H-0.14Z", "symbolSize": 1764, "symbolStrokeWidth": 0, "symbolOpacity": 1, "labelFontSize": 25, "labelColor": "#000000", "labelOffset": 16, "columnPadding": 13, "labelLimit": 0}}
                    }
                  },
                  {
                    "mark": {"type": "point", "filled": true, "size": 85},
                    "encoding": {
                      "x": {"field": "e", "type": "quantitative", "scale": {"domain": [-0.14, 6.28], "nice": false, "zero": false},
                        "axis": {"values": [0, 1, 2, 3, 4, 5, 6], "labels": false, "ticks": false, "domain": false, "grid": true, "gridColor": "#EBEBEB", "gridWidth": {"condition": {"test": "datum.value % 2 === 1", "value": 1.3}, "value": 2}, "title": null, "minExtent": 0, "maxExtent": 0}},
                      "y": {"field": "c", "type": "nominal", "scale": {"type": "band", "paddingInner": 0, "paddingOuter": 0.1},
                        "axis": {"labels": false, "ticks": false, "domain": false, "grid": true, "gridColor": "#EBEBEB", "gridWidth": 2, "bandPosition": 0.5, "title": null, "minExtent": 0, "maxExtent": 0}},
                      "yOffset": {"field": "dy", "type": "quantitative", "scale": {"domain": [-0.5, 0.5], "nice": false, "zero": false}},
                      "color": {"field": "o", "type": "nominal", "scale": {"domain": ["Case mortality", "Hospital mortality", "Hospitalisation", "ICU admission"], "range": ["#0B4A8F", "#F01414", "#3DB54A", "#16A0BE"]},
                        "legend": {"orient": "none", "legendX": 180, "legendY": 1290, "direction": "horizontal", "title": null, "symbolType": "M-0.06,-1H0.06V1H-0.06Z M-0.14,-0.16H0.14V0.16H-0.14Z", "symbolSize": 1764, "symbolStrokeWidth": 0, "symbolOpacity": 1, "labelFontSize": 25, "labelColor": "#000000", "labelOffset": 16, "columnPadding": 13, "labelLimit": 0}},
                      "shape": {"field": "m", "type": "nominal", "scale": {"range": ["circle", "triangle-up", "square"]}, "legend": null},
                      "opacity": {"field": "m", "type": "nominal", "scale": {"domain": ["HR", "OR", "RR"], "range": [1, 1]},
                        "legend": {"orient": "none", "legendX": 1199, "legendY": 1290, "direction": "horizontal", "title": null, "symbolType": {"expr": "datum.value === 'HR' ? 'M-0.05,-1H0.05V1H-0.05Z M-0.2,0A0.2,0.2 0 1,1 0.2,0A0.2,0.2 0 1,1 -0.2,0Z' : datum.value === 'OR' ? 'M-0.05,-1H0.05V1H-0.05Z M0,-0.26L0.22,0.13H-0.22Z' : 'M-0.05,-1H0.05V1H-0.05Z M-0.17,-0.17H0.17V0.17H-0.17Z'"}, "symbolSize": 1764, "symbolFillColor": "#000000", "symbolStrokeWidth": 0, "labelFontSize": 25, "labelColor": "#000000", "labelOffset": 16, "columnPadding": 13}}
                    }
                  }
                ]
              }
            }
          ]
        }
      ]
    },
    {
      "spacing": 0,
      "bounds": "flush",
      "hconcat": [
        {
          "width": 47, "height": 554,
          "view": {"fill": "#D9D9D9", "stroke": "#333333", "strokeWidth": 1.8},
          "layer": [
            {
              "data": {"name": "d"},
              "transform": [{"filter": "datum.g === 'O'"}],
              "mark": {"type": "point", "opacity": 0},
              "encoding": {
                "y": {"field": "c", "type": "nominal", "scale": {"type": "band", "paddingInner": 0, "paddingOuter": 0.1},
                  "axis": {"title": null, "domain": false, "grid": false, "ticks": true, "tickSize": 9, "tickWidth": 1.8, "tickColor": "#333333", "labelFontSize": 24.7, "labelColor": "#4D4D4D", "labelPadding": 7, "labelLimit": 0, "minExtent": 320, "maxExtent": 320, "bandPosition": 0.5}}
              }
            },
            {
              "data": {"values": [{"t": "Overweight, obesity, underweight"}]},
              "mark": {"type": "text", "angle": 270, "fontSize": 25, "color": "#1A1A1A", "font": "Liberation Sans"},
              "encoding": {"text": {"field": "t", "type": "nominal"}}
            }
          ]
        },
        {
          "data": {"name": "d"},
          "title": {"text": "Risk estimate (95% Confidence Interval)", "orient": "bottom", "anchor": "middle", "fontSize": 25, "fontWeight": "normal", "color": "#000000", "offset": 4},
          "transform": [
            {"filter": "datum.g === 'O'"},
            {"window": [{"op": "row_number", "as": "k"}], "groupby": ["r", "c"], "sort": [{"field": "o", "order": "descending"}, {"field": "m", "order": "descending"}]},
            {"joinaggregate": [{"op": "count", "as": "n"}], "groupby": ["r", "c"]},
            {"window": [{"op": "row_number", "as": "kr"}], "groupby": ["r"]},
            {"calculate": "0.8 * ((datum.k - 0.5) / datum.n - 0.5)", "as": "dy"}
          ],
          "facet": {"column": {"field": "r", "type": "nominal", "header": null}},
          "spacing": 15,
          "bounds": "flush",
          "spec": {
            "width": 250, "height": 554,
            "view": {"fill": "white", "stroke": "#333333", "strokeWidth": 1.8},
            "layer": [
              {
                "transform": [{"filter": "datum.kr === 1"}],
                "mark": {"type": "rule", "color": "#1874CD", "strokeDash": [7, 5], "strokeWidth": 2},
                "encoding": {
                  "x": {"datum": 1, "type": "quantitative", "scale": {"domain": [-0.14, 6.28], "nice": false, "zero": false},
                    "axis": {"values": [0, 1, 2, 3, 4, 5, 6], "labelExpr": "datum.value % 2 === 0 ? datum.label : ''", "labelOverlap": false, "labelFlush": false, "grid": true, "gridColor": "#EBEBEB", "gridWidth": {"condition": {"test": "datum.value % 2 === 1", "value": 1.3}, "value": 2}, "tickOpacity": {"condition": {"test": "datum.value % 2 === 1", "value": 0}, "value": 1}, "tickSize": 6, "tickWidth": 1.8, "tickColor": "#333333", "labelFontSize": 25, "labelColor": "#4D4D4D", "labelPadding": 8, "domain": false, "title": null}}
                }
              },
              {
                "mark": {"type": "rule", "strokeWidth": 2.2},
                "encoding": {
                  "x": {"field": "l", "type": "quantitative", "scale": {"domain": [-0.14, 6.28], "nice": false, "zero": false},
                    "axis": {"values": [0, 1, 2, 3, 4, 5, 6], "labelExpr": "datum.value % 2 === 0 ? datum.label : ''", "labelOverlap": false, "labelFlush": false, "grid": true, "gridColor": "#EBEBEB", "gridWidth": {"condition": {"test": "datum.value % 2 === 1", "value": 1.3}, "value": 2}, "tickOpacity": {"condition": {"test": "datum.value % 2 === 1", "value": 0}, "value": 1}, "tickSize": 6, "tickWidth": 1.8, "tickColor": "#333333", "labelFontSize": 25, "labelColor": "#4D4D4D", "labelPadding": 8, "domain": false, "title": null}},
                  "x2": {"field": "h"},
                  "y": {"field": "c", "type": "nominal", "scale": {"type": "band", "paddingInner": 0, "paddingOuter": 0.1},
                    "axis": {"labels": false, "ticks": false, "domain": false, "grid": true, "gridColor": "#EBEBEB", "gridWidth": 2, "bandPosition": 0.5, "title": null, "minExtent": 0, "maxExtent": 0}},
                  "yOffset": {"field": "dy", "type": "quantitative", "scale": {"domain": [-0.5, 0.5], "nice": false, "zero": false}},
                  "color": {"field": "o", "type": "nominal", "scale": {"domain": ["Case mortality", "Hospital mortality", "Hospitalisation", "ICU admission"], "range": ["#0B4A8F", "#F01414", "#3DB54A", "#16A0BE"]},
                    "legend": {"orient": "none", "legendX": 180, "legendY": 1290, "direction": "horizontal", "title": null, "symbolType": "M-0.06,-1H0.06V1H-0.06Z M-0.14,-0.16H0.14V0.16H-0.14Z", "symbolSize": 1764, "symbolStrokeWidth": 0, "symbolOpacity": 1, "labelFontSize": 25, "labelColor": "#000000", "labelOffset": 16, "columnPadding": 13, "labelLimit": 0}}
                }
              },
              {
                "mark": {"type": "point", "filled": true, "size": 85},
                "encoding": {
                  "x": {"field": "e", "type": "quantitative", "scale": {"domain": [-0.14, 6.28], "nice": false, "zero": false},
                    "axis": {"values": [0, 1, 2, 3, 4, 5, 6], "labelExpr": "datum.value % 2 === 0 ? datum.label : ''", "labelOverlap": false, "labelFlush": false, "grid": true, "gridColor": "#EBEBEB", "gridWidth": {"condition": {"test": "datum.value % 2 === 1", "value": 1.3}, "value": 2}, "tickOpacity": {"condition": {"test": "datum.value % 2 === 1", "value": 0}, "value": 1}, "tickSize": 6, "tickWidth": 1.8, "tickColor": "#333333", "labelFontSize": 25, "labelColor": "#4D4D4D", "labelPadding": 8, "domain": false, "title": null}},
                  "y": {"field": "c", "type": "nominal", "scale": {"type": "band", "paddingInner": 0, "paddingOuter": 0.1},
                    "axis": {"labels": false, "ticks": false, "domain": false, "grid": true, "gridColor": "#EBEBEB", "gridWidth": 2, "bandPosition": 0.5, "title": null, "minExtent": 0, "maxExtent": 0}},
                  "yOffset": {"field": "dy", "type": "quantitative", "scale": {"domain": [-0.5, 0.5], "nice": false, "zero": false}},
                  "color": {"field": "o", "type": "nominal", "scale": {"domain": ["Case mortality", "Hospital mortality", "Hospitalisation", "ICU admission"], "range": ["#0B4A8F", "#F01414", "#3DB54A", "#16A0BE"]},
                    "legend": {"orient": "none", "legendX": 180, "legendY": 1290, "direction": "horizontal", "title": null, "symbolType": "M-0.06,-1H0.06V1H-0.06Z M-0.14,-0.16H0.14V0.16H-0.14Z", "symbolSize": 1764, "symbolStrokeWidth": 0, "symbolOpacity": 1, "labelFontSize": 25, "labelColor": "#000000", "labelOffset": 16, "columnPadding": 13, "labelLimit": 0}},
                  "shape": {"field": "m", "type": "nominal", "scale": {"range": ["circle", "triangle-up", "square"]}, "legend": null},
                  "opacity": {"field": "m", "type": "nominal", "scale": {"domain": ["HR", "OR", "RR"], "range": [1, 1]},
                    "legend": {"orient": "none", "legendX": 1199, "legendY": 1290, "direction": "horizontal", "title": null, "symbolType": {"expr": "datum.value === 'HR' ? 'M-0.05,-1H0.05V1H-0.05Z M-0.2,0A0.2,0.2 0 1,1 0.2,0A0.2,0.2 0 1,1 -0.2,0Z' : datum.value === 'OR' ? 'M-0.05,-1H0.05V1H-0.05Z M0,-0.26L0.22,0.13H-0.22Z' : 'M-0.05,-1H0.05V1H-0.05Z M-0.17,-0.17H0.17V0.17H-0.17Z'"}, "symbolSize": 1764, "symbolFillColor": "#000000", "symbolStrokeWidth": 0, "labelFontSize": 25, "labelColor": "#000000", "labelOffset": 16, "columnPadding": 13}}
                }
              }
            ]
          }
        }
      ]
    }
  ]
}
